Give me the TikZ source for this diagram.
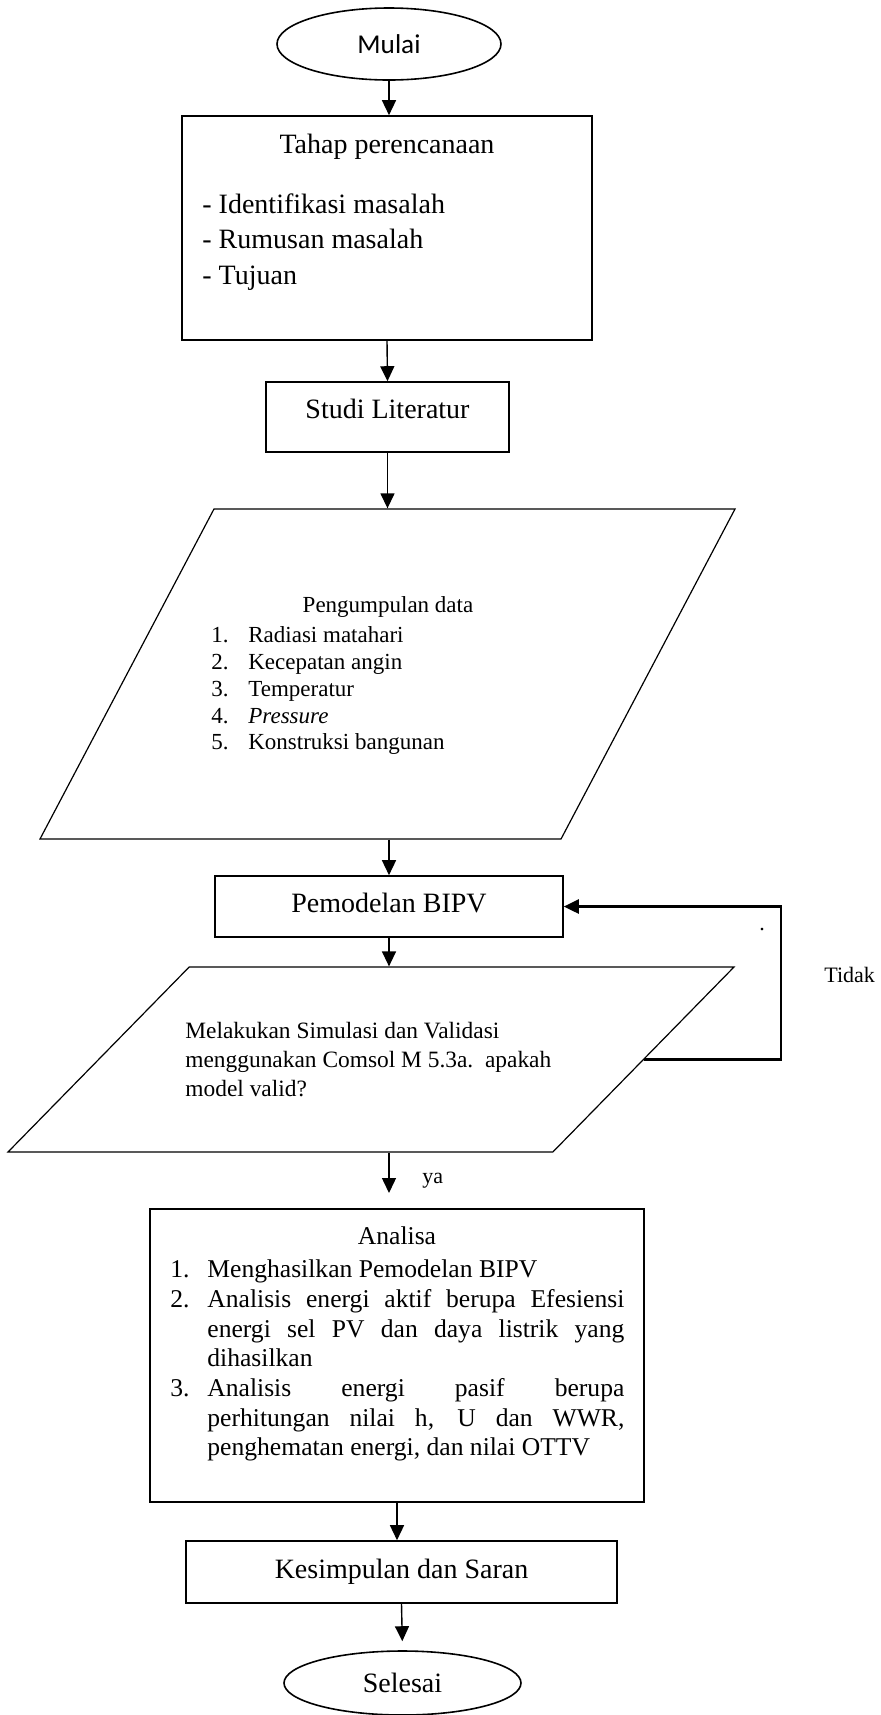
\documentclass[tikz,border=0pt]{standalone}
\usepackage{fontspec}
\setmainfont{Liberation Serif}
\newfontfamily\mulaifont{Carlito}
\usepackage{tikz}
\usetikzlibrary{arrows.meta,positioning,shapes.geometric}

\begin{document}
\begin{tikzpicture}[
    x=0.5pt, y=-0.5pt,
    box/.style={draw, line width=0.8pt, inner sep=0pt, font=\fontsize{14}{17}\selectfont},
    term/.style={draw, ellipse, line width=0.8pt, inner sep=0pt, font=\fontsize{14}{17}\selectfont},
    io/.style={draw, trapezium, trapezium stretches body=true, line width=0.6pt, inner xsep=2pt, inner ysep=0pt},
    txt/.style={inner sep=0pt},
    arrow/.style={-{Triangle[width=7pt,length=7.5pt]}, line width=0.7pt},
    back/.style={-{Triangle[width=7pt,length=7.5pt]}, line width=1.3pt}
]
    \useasboundingbox (0,0) rectangle (881,1715);

    \node[term, minimum width=112pt, minimum height=36pt, font=\mulaifont\fontsize{13.6}{16}\selectfont] (mulai) at (389,44) {Mulai};

    % Planning stage
    \node[box, minimum width=205pt, minimum height=112pt] (tahap) at (387,228) {};
    \node[txt, anchor=base, font=\fontsize{14}{17}\selectfont] (tahaptitle) at (387,153) {Tahap perencanaan};
    \node[txt, anchor=north west, align=left, font=\fontsize{14}{17.9}\selectfont] (tahaplist) at (202,193) {- Identifikasi masalah\\- Rumusan masalah\\- Tujuan};

    \node[box, minimum width=121.5pt, minimum height=35pt, text depth=8.5pt] (studi) at (387.5,417) {Studi Literatur};

    % Data collection
    \node[io, trapezium left angle=62.2, trapezium right angle=117.8, minimum width=347.5pt] (data) at (387.5,674) {\rule{0pt}{165pt}};
    \node[txt, anchor=base, font=\fontsize{11.5}{13.4}\selectfont] (datatitle) at (388,612) {Pengumpulan data};
    \node[txt, anchor=north west, align=left, font=\fontsize{11.5}{13.4}\selectfont] (datalist) at (211,626.3) {\makebox[18.5pt][l]{1.}Radiasi matahari\\\makebox[18.5pt][l]{2.}Kecepatan angin\\\makebox[18.5pt][l]{3.}Temperatur\\\makebox[18.5pt][l]{4.}\textit{Pressure}\\\makebox[18.5pt][l]{5.}Konstruksi bangunan};

    \node[box, minimum width=174pt, minimum height=30.5pt, text depth=4pt] (pemodelan) at (389,906.5) {Pemodelan BIPV};

    % Simulation and validation
    \node[io, trapezium left angle=45.6, trapezium right angle=134.4, minimum width=363pt] (valid) at (371,1059.5) {\rule{0pt}{92.5pt}};
    \node[txt, anchor=north west, align=left, font=\fontsize{11.7}{14.5}\selectfont] (validtext) at (185,1022) {Melakukan Simulasi dan Validasi\\menggunakan Comsol M 5.3a.\ \ apakah\\model valid?};

    % Analysis
    \node[box, minimum width=247pt, minimum height=146.5pt] (analisa) at (397,1355.5) {};
    \node[txt, anchor=base, font=\fontsize{12.8}{14.85}\selectfont] (analisatitle) at (397,1244) {Analisa};
    \node[txt, anchor=north west, text width=227pt, align=justify, font=\fontsize{12.8}{14.85}\selectfont] (analisalist) at (170,1259.5) {\parindent=0pt
        \hangindent=18.5pt\hangafter=1\makebox[18.5pt][l]{1.}Menghasilkan Pemodelan BIPV\par
        \hangindent=18.5pt\hangafter=1\makebox[18.5pt][l]{2.}Analisis energi aktif berupa Efesiensi\linebreak energi sel PV dan daya listrik yang\linebreak dihasilkan\par
        \hangindent=18.5pt\hangafter=1\makebox[18.5pt][l]{3.}Analisis energi pasif berupa\linebreak perhitungan nilai h, U dan WWR,\linebreak penghematan energi, dan nilai OTTV\par};

    \node[box, minimum width=215.5pt, minimum height=31pt] (kesimpulan) at (401.5,1572) {Kesimpulan dan Saran};
    \node[term, minimum width=118.5pt, minimum height=32pt] (selesai) at (402.5,1683) {Selesai};

    % Labels
    \node[txt, anchor=base west, font=\fontsize{11}{13}\selectfont] (tidak) at (824,982) {Tidak};
    \node[txt, anchor=base west, font=\fontsize{11}{13}\selectfont] (ya) at (422,1183) {ya};
    \node[txt, anchor=base, font=\fontsize{11}{13}\selectfont] (dot) at (762,930) {.};

    \coordinate (yaend) at (389,1193);
    \coordinate (loopturn) at (781,906.5);

    % Main flow
    \draw[arrow] (mulai.south) -- (mulai.south |- tahap.north);
    \draw[arrow] (tahap.south) -- (studi.north);
    \draw[arrow] (studi.south) -- (studi.south |- data.north);
    \draw[arrow] (pemodelan.north |- data.south) -- (pemodelan.north);
    \draw[arrow] (pemodelan.south) -- (pemodelan.south |- valid.north);
    \draw[arrow] (yaend |- valid.south) -- (yaend);
    \draw[arrow] (analisa.south) -- (analisa.south |- kesimpulan.north);
    \draw[arrow, shorten >=4.5pt] (kesimpulan.south) -- (selesai.north);

    % Back to modelling
    \draw[back] (valid.east) -| (loopturn) -- (pemodelan.east);
\end{tikzpicture}
\end{document}
